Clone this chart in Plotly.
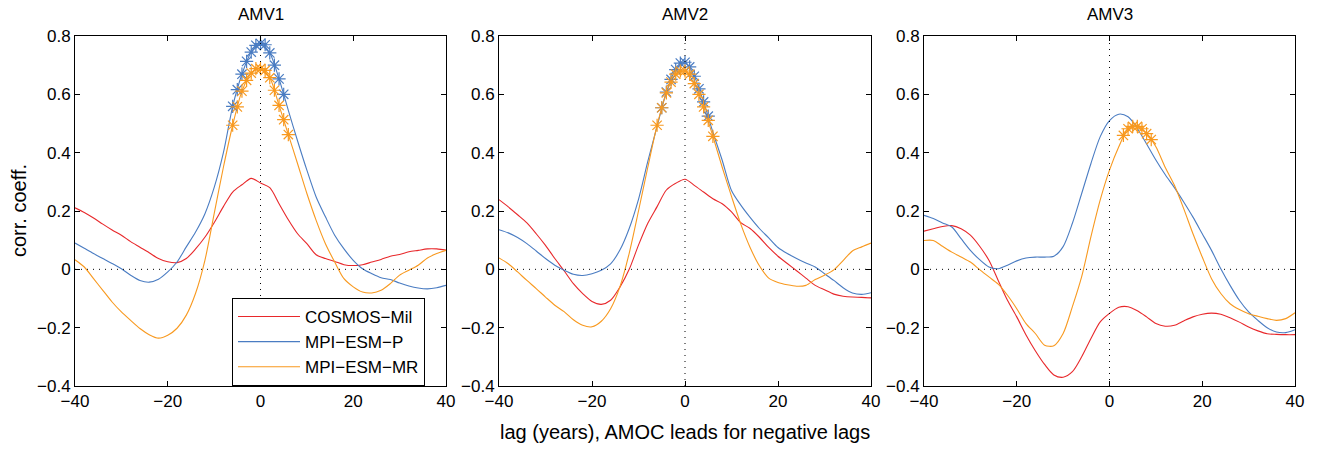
import plotly.graph_objects as go

# ---------------- data ----------------
lags = list(range(-40, 41, 2))
model_names = ["COSMOS\u2212Mil", "MPI\u2212ESM\u2212P", "MPI\u2212ESM\u2212MR"]
panel_titles = ["AMV1", "AMV2", "AMV3"]

# AMV1
amv1_cosmos = [0.211, 0.195, 0.176, 0.155, 0.135, 0.117, 0.095, 0.076, 0.057, 0.037, 0.026,
               0.023, 0.037, 0.07, 0.11, 0.16, 0.215, 0.265, 0.29, 0.312, 0.296, 0.28, 0.225,
               0.17, 0.122, 0.088, 0.05, 0.037, 0.027, 0.016, 0.013, 0.016, 0.025, 0.034,
               0.045, 0.051, 0.06, 0.065, 0.07, 0.07, 0.066]
amv1_esmp = [0.09, 0.072, 0.054, 0.037, 0.02, 0.002, -0.02, -0.038, -0.044, -0.034, -0.009,
             0.025, 0.077, 0.128, 0.19, 0.28, 0.40, 0.559, 0.669, 0.745, 0.774, 0.742, 0.653,
             0.545, 0.44, 0.34, 0.248, 0.18, 0.117, 0.07, 0.031, 0.002, -0.015, -0.029,
             -0.035, -0.047, -0.057, -0.064, -0.067, -0.063, -0.055]
amv1_esmmr = [0.033, 0.008, -0.032, -0.072, -0.112, -0.146, -0.175, -0.203, -0.224, -0.236,
              -0.226, -0.202, -0.157, -0.082, 0.03, 0.19, 0.35, 0.494, 0.611, 0.673, 0.688,
              0.657, 0.562, 0.462, 0.362, 0.26, 0.168, 0.088, 0.025, -0.032, -0.06, -0.078,
              -0.081, -0.072, -0.049, -0.02, -0.003, 0.014, 0.039, 0.054, 0.065]

# AMV2
amv2_cosmos = [0.239, 0.214, 0.187, 0.159, 0.122, 0.082, 0.037, -0.005, -0.049, -0.083, -0.11,
               -0.12, -0.106, -0.061, 0.0, 0.083, 0.158, 0.215, 0.272, 0.295, 0.309, 0.288, 0.265,
               0.242, 0.225, 0.197, 0.16, 0.14, 0.11, 0.075, 0.045, 0.02, -0.005, -0.03,
               -0.055, -0.07, -0.085, -0.092, -0.095, -0.096, -0.098]
amv2_esmp = [0.136, 0.125, 0.109, 0.088, 0.063, 0.037, 0.014, -0.003, -0.017, -0.021, -0.015,
             -0.003, 0.019, 0.066, 0.14, 0.24, 0.37, 0.49, 0.608, 0.685, 0.71, 0.662, 0.574,
             0.47, 0.374, 0.27, 0.22, 0.178, 0.14, 0.108, 0.075, 0.054, 0.037, 0.022, 0.008,
             -0.015, -0.038, -0.063, -0.081, -0.086, -0.08]
amv2_esmmr = [0.039, 0.019, -0.009, -0.038, -0.066, -0.095, -0.123, -0.145, -0.173, -0.192,
              -0.197, -0.178, -0.135, -0.06, 0.055, 0.2, 0.35, 0.494, 0.605, 0.669, 0.68,
              0.637, 0.557, 0.456, 0.35, 0.25, 0.155, 0.075, 0.012, -0.03, -0.045, -0.053,
              -0.058, -0.055, -0.035, -0.02, -0.002, 0.03, 0.063, 0.077, 0.09]

# AMV3
amv3_cosmos = [0.131, 0.139, 0.147, 0.15, 0.139, 0.117, 0.079, 0.031, -0.038, -0.106, -0.163,
               -0.225, -0.279, -0.326, -0.362, -0.37, -0.351, -0.3, -0.237, -0.18, -0.151,
               -0.13, -0.128, -0.142, -0.163, -0.186, -0.195, -0.192, -0.177, -0.163, -0.154,
               -0.15, -0.154, -0.166, -0.181, -0.198, -0.211, -0.221, -0.223, -0.224, -0.224]
amv3_esmp = [0.185, 0.174, 0.159, 0.145, 0.105, 0.065, 0.033, 0.008, 0.002, 0.014, 0.029,
             0.039, 0.042, 0.042, 0.045, 0.078, 0.158, 0.26, 0.363, 0.455, 0.51, 0.532, 0.523,
             0.483, 0.43, 0.375, 0.325, 0.28, 0.231, 0.179, 0.122, 0.065, 0.002, -0.055,
             -0.106, -0.146, -0.175, -0.2, -0.215, -0.217, -0.207]
amv3_esmmr = [0.099, 0.099, 0.079, 0.059, 0.042, 0.025, -0.001, -0.026, -0.051, -0.089,
              -0.135, -0.186, -0.22, -0.26, -0.262, -0.22, -0.128, -0.025, 0.112, 0.238, 0.34,
              0.42, 0.482, 0.49, 0.465, 0.42, 0.35, 0.288, 0.208, 0.122, 0.042, -0.032,
              -0.083, -0.118, -0.138, -0.152, -0.161, -0.169, -0.175, -0.169, -0.149]

# significant lags (asterisks)
sig1_esmp_x = [-6, -5, -4, -3, -2, -1, 0, 1, 2, 3, 4, 5]
sig1_esmp_y = [0.559, 0.616, 0.669, 0.713, 0.745, 0.768, 0.774, 0.77, 0.742, 0.70, 0.653, 0.60]
sig1_esmmr_x = [-6, -5, -4, -3, -2, -1, 0, 1, 2, 3, 4, 5, 6]
sig1_esmmr_y = [0.494, 0.557, 0.611, 0.648, 0.673, 0.688, 0.688, 0.682, 0.657, 0.614, 0.562, 0.513, 0.462]
sig2_esmp_x = [-5, -4, -3, -2, -1, 0, 1, 2, 3, 4, 5]
sig2_esmp_y = [0.554, 0.608, 0.651, 0.685, 0.707, 0.71, 0.694, 0.662, 0.619, 0.574, 0.525]
sig2_esmmr_x = [-6, -5, -4, -3, -2, -1, 0, 1, 2, 3, 4, 5, 6]
sig2_esmmr_y = [0.494, 0.554, 0.605, 0.642, 0.669, 0.68, 0.68, 0.669, 0.637, 0.60, 0.557, 0.511, 0.456]
sig3_esmmr_x = [3, 4, 5, 6, 7, 8, 9]
sig3_esmmr_y = [0.459, 0.482, 0.49, 0.49, 0.482, 0.465, 0.445]

x_tickvals = [-40, -20, 0, 20, 40]
x_ticktext = ["\u221240", "\u221220", "0", "20", "40"]
y_tickvals = [-0.4, -0.2, 0, 0.2, 0.4, 0.6, 0.8]
y_ticktext = ["\u22120.4", "\u22120.2", "0", "0.2", "0.4", "0.6", "0.8"]

# ---------------- styling ----------------
colors = ["#e8282b", "#4a7cc2", "#f8991f"]
FONT = "Liberation Sans, Arial, sans-serif"
W, H = 1317, 450
x_px = [(75, 446), (499, 871), (924, 1295)]
y_dom = [(450 - 386) / H, (450 - 36) / H]

panels = [
    (amv1_cosmos, amv1_esmp, amv1_esmmr,
     [(1, sig1_esmp_x, sig1_esmp_y), (2, sig1_esmmr_x, sig1_esmmr_y)]),
    (amv2_cosmos, amv2_esmp, amv2_esmmr,
     [(1, sig2_esmp_x, sig2_esmp_y), (2, sig2_esmmr_x, sig2_esmmr_y)]),
    (amv3_cosmos, amv3_esmp, amv3_esmmr,
     [(2, sig3_esmmr_x, sig3_esmmr_y)]),
]

fig = go.Figure()
shapes = []
annotations = []

for i, (c, p, mr, sigs) in enumerate(panels):
    xa = "x" if i == 0 else f"x{i+1}"
    ya = "y" if i == 0 else f"y{i+1}"
    for k, series in enumerate([c, p, mr]):
        fig.add_trace(go.Scatter(
            x=lags, y=series, mode="lines", xaxis=xa, yaxis=ya,
            line=dict(color=colors[k], width=1.1, shape="spline", smoothing=0.8),
            name=model_names[k], showlegend=(i == 0), legendrank=k,
        ))
    for k, sx, sy in sigs:
        fig.add_trace(go.Scatter(
            x=sx, y=sy, mode="markers", xaxis=xa, yaxis=ya, showlegend=False,
            marker=dict(symbol="asterisk-open", size=11, color=colors[k],
                        line=dict(color=colors[k], width=1.2)),
        ))
    axkey = "xaxis" if i == 0 else f"xaxis{i+1}"
    aykey = "yaxis" if i == 0 else f"yaxis{i+1}"
    common = dict(showline=True, linecolor="black", linewidth=1, mirror="allticks",
                  ticks="inside", ticklen=5, tickcolor="black", showgrid=False,
                  zeroline=False, automargin=False,
                  tickfont=dict(family=FONT, size=17, color="black"))
    fig.update_layout(**{
        axkey: dict(domain=[x_px[i][0] / W, x_px[i][1] / W], range=[-40, 40],
                    tickvals=x_tickvals, ticktext=x_ticktext, anchor=ya, **common),
        aykey: dict(domain=list(y_dom), range=[-0.4, 0.8], tickvals=y_tickvals,
                    ticktext=y_ticktext, anchor=xa, **common),
    })
    shapes.append(dict(type="line", xref=f"{xa} domain", yref=ya, x0=0, x1=1, y0=0, y1=0,
                       line=dict(color="black", width=1, dash="1px,5px")))
    shapes.append(dict(type="line", xref=xa, yref=f"{ya} domain", x0=0, x1=0, y0=0, y1=1,
                       line=dict(color="black", width=1, dash="1px,5px")))
    annotations.append(dict(text=panel_titles[i], xref="paper", yref="paper",
                            x=(x_px[i][0] + x_px[i][1]) / 2 / W, y=1 - 15 / H,
                            xanchor="center", yanchor="middle", showarrow=False,
                            font=dict(family=FONT, size=17, color="black")))

annotations.append(dict(text="lag (years), AMOC leads for negative lags", xref="paper",
                        yref="paper", x=685 / W, y=1 - 432 / H, xanchor="center",
                        yanchor="middle", showarrow=False,
                        font=dict(family=FONT, size=20, color="black")))
annotations.append(dict(text="corr. coeff.", xref="paper", yref="paper", x=19 / W,
                        y=1 - 211 / H, xanchor="center", yanchor="middle", textangle=-90,
                        showarrow=False, font=dict(family=FONT, size=20, color="black")))

fig.update_layout(
    width=W, height=H, margin=dict(l=0, r=0, t=0, b=0, autoexpand=False),
    paper_bgcolor="white", plot_bgcolor="white",
    shapes=shapes, annotations=annotations,
    legend=dict(x=232 / W, y=1 - 298 / H, xanchor="left", yanchor="top",
                bgcolor="white", bordercolor="black", borderwidth=1,
                font=dict(family=FONT, size=17, color="black"),
                itemwidth=62, tracegroupgap=0, traceorder="normal"),
    showlegend=True,
)

fig.write_html("out.html")
